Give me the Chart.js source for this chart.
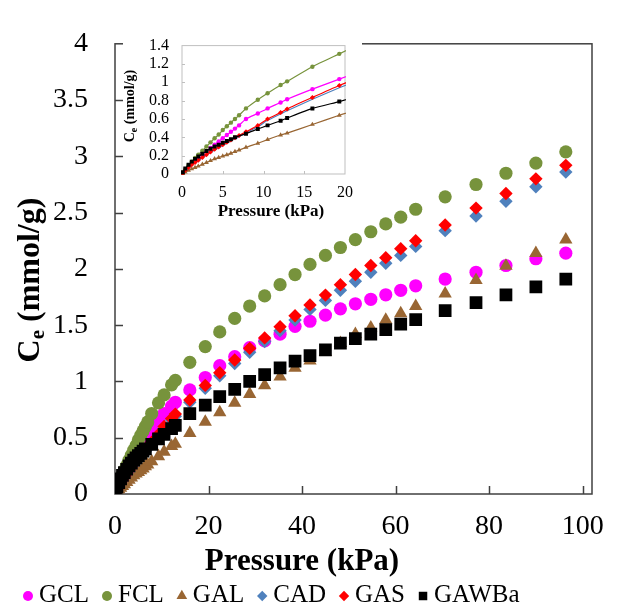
<!DOCTYPE html>
<html>
<head>
<meta charset="utf-8">
<script src="https://cdn.jsdelivr.net/npm/chart.js@4/dist/chart.umd.min.js"></script>
<style>
  html, body { margin: 0; padding: 0; background: #fff; }
  #wrap { position: relative; width: 625px; height: 612px; }
  #main { position: absolute; left: 0; top: 0; }
  #inset { position: absolute; left: 123px; top: 23px; background: #fff; }
</style>
</head>
<body>
<div id="wrap">
  <canvas id="main" width="625" height="612"></canvas>
  <canvas id="inset" width="239" height="200"></canvas>
</div>
<script>
// pressure points (kPa), shared by all series
const pressure = [0.1, 0.4, 0.8, 1.2, 1.6, 2.0, 2.5, 3.0, 3.5, 4.0, 4.5, 5.0, 5.5, 6.0, 6.5, 7.0,
  7.85, 9.3, 10.5, 12.1, 12.9,
  16.0, 19.3, 22.4, 25.6, 28.8, 32.0, 35.3, 38.5, 41.7, 45.0, 48.2, 51.4, 54.7, 57.9, 61.1, 64.3, 70.6, 77.2, 83.6, 90.0, 96.4];

// Ce (mmol/g) per series
const gcl = [null, null, null, null, 0.15, 0.18, 0.215, 0.25, 0.285, 0.32, 0.355, 0.39, 0.425, 0.46, 0.495, 0.53,
  0.60, 0.66, 0.715, 0.78, 0.815,
  0.925, 1.035, 1.14, 1.22, 1.30, 1.36, 1.42, 1.49, 1.535, 1.59, 1.645, 1.69, 1.73, 1.77, 1.81, 1.85, 1.91, 1.97, 2.03, 2.09, 2.14];
const fcl = [0.015, 0.05, 0.095, 0.135, 0.175, 0.21, 0.255, 0.30, 0.345, 0.39, 0.43, 0.48, 0.52, 0.56, 0.60, 0.64,
  0.715, 0.81, 0.88, 0.97, 1.01,
  1.17, 1.31, 1.44, 1.56, 1.67, 1.76, 1.86, 1.95, 2.04, 2.12, 2.19, 2.26, 2.33, 2.40, 2.46, 2.53, 2.64, 2.75, 2.85, 2.94, 3.04];
const gal = [0.005, 0.02, 0.04, 0.055, 0.07, 0.085, 0.105, 0.125, 0.145, 0.165, 0.18, 0.195, 0.21, 0.225, 0.245, 0.26,
  0.29, 0.335, 0.375, 0.425, 0.445,
  0.54, 0.64, 0.725, 0.81, 0.888, 0.965, 1.043, 1.12, 1.184, 1.26, 1.34, 1.42, 1.477, 1.547, 1.604, 1.668, 1.78, 1.90, 2.026, 2.14, 2.26];
const cad = [0.01, 0.035, 0.065, 0.095, 0.12, 0.145, 0.175, 0.205, 0.235, 0.26, 0.285, 0.31, 0.335, 0.36, 0.385, 0.405,
  0.45, 0.515, 0.585, 0.655, 0.69,
  0.815, 0.94, 1.05, 1.16, 1.26, 1.355, 1.45, 1.545, 1.64, 1.72, 1.81, 1.89, 1.97, 2.05, 2.12, 2.20, 2.34, 2.47, 2.60, 2.73, 2.86];
const gas = [0.01, 0.04, 0.07, 0.10, 0.125, 0.15, 0.18, 0.21, 0.24, 0.27, 0.295, 0.32, 0.345, 0.37, 0.395, 0.42,
  0.46, 0.53, 0.60, 0.67, 0.71,
  0.835, 0.965, 1.077, 1.19, 1.294, 1.387, 1.486, 1.584, 1.68, 1.767, 1.86, 1.95, 2.03, 2.10, 2.18, 2.25, 2.39, 2.54, 2.67, 2.80, 2.92];
const gawba = [0.02, 0.06, 0.10, 0.135, 0.165, 0.19, 0.22, 0.25, 0.275, 0.30, 0.32, 0.34, 0.36, 0.38, 0.40, null,
  0.44, 0.49, 0.53, 0.58, 0.61,
  0.715, 0.79, 0.866, 0.93, 1.0, 1.06, 1.12, 1.18, 1.23, 1.28, 1.34, 1.38, 1.42, 1.46, 1.51, 1.55, 1.63, 1.70, 1.77, 1.84, 1.91];

const seriesNames = ['GCL', 'FCL', 'GAL', 'CAD', 'GAS', 'GAWBa'];
const seriesValues = [gcl, fcl, gal, cad, gas, gawba];
const seriesColors = ['#FF00FF', '#77933C', '#996633', '#4F81BD', '#FF0000', '#000000'];
const seriesMarkers = ['circle', 'circle', 'triangle', 'rectRot', 'rectRot', 'rect'];

// axis ranges and tick labels
const mainTicksX = { min: 0, max: 102, step: 20, last: 100 };
const mainTicksY = { min: 0, max: 4, step: 0.5, last: 4 };
const insetTicksX = { min: 0, max: 20, step: 5, last: 20 };
const insetTicksY = { min: 0, max: 1.4, step: 0.2, last: 1.4 };

const SERIF = "'Liberation Serif', 'Times New Roman', serif";
const mainSize = { circle: 6.6, triangle: 7.7, rectRot: 6.7, rect: 9 };
const insetSize = { circle: 2.2, triangle: 2.8, rectRot: 2.5, rect: 2.8 };
const legendSize = { circle: 5, triangle: 6.2, rectRot: 5.2, rect: 6 };

function toPoints(values) {
  return pressure.map((p, i) => ({ x: p, y: values[i] }));
}

function shape(ctx, style, cx, cy, r, color) {
  ctx.fillStyle = color;
  ctx.beginPath();
  if (style === 'circle') {
    ctx.arc(cx, cy, r, 0, Math.PI * 2);
  } else if (style === 'triangle') {
    ctx.moveTo(cx, cy - r);
    ctx.lineTo(cx + r * 0.866, cy + r / 2);
    ctx.lineTo(cx - r * 0.866, cy + r / 2);
    ctx.closePath();
  } else if (style === 'rectRot') {
    ctx.moveTo(cx, cy - r);
    ctx.lineTo(cx + r, cy);
    ctx.lineTo(cx, cy + r);
    ctx.lineTo(cx - r, cy);
    ctx.closePath();
  } else {
    const h = r * Math.SQRT1_2;
    ctx.rect(cx - h, cy - h, 2 * h, 2 * h);
  }
  ctx.fill();
}

function yTitle(ctx, t) {
  ctx.save();
  ctx.translate(t.x, t.y);
  ctx.rotate(-Math.PI / 2);
  ctx.fillStyle = '#000';
  ctx.textAlign = 'left';
  ctx.textBaseline = 'alphabetic';
  const big = 'bold ' + t.size + 'px ' + SERIF;
  const small = 'bold ' + t.sub + 'px ' + SERIF;
  ctx.font = big;
  const wC = ctx.measureText('C').width;
  const wRest = ctx.measureText(' (mmol/g)').width;
  ctx.font = small;
  const wE = ctx.measureText('e').width;
  const x0 = -(wC + wE + wRest) / 2;
  ctx.font = big;
  ctx.fillText('C', x0, 0);
  ctx.font = small;
  ctx.fillText('e', x0 + wC, t.drop);
  ctx.font = big;
  ctx.fillText(' (mmol/g)', x0 + wC + wE, 0);
  ctx.restore();
}

const decor = {
  id: 'decor',
  beforeDatasetsDraw(chart, args, o) {
    const { ctx, chartArea: a, scales: { x, y } } = chart;
    ctx.save();
    ctx.strokeStyle = o.frameColor;
    ctx.lineWidth = o.frameWidth;
    ctx.strokeRect(a.left, a.top, a.right - a.left, a.bottom - a.top);
    ctx.beginPath();
    x.ticks.forEach(t => {
      if (t.value <= x.min || t.value >= x.max) return;
      const px = Math.round(x.getPixelForValue(t.value)) + 0.5;
      ctx.moveTo(px, a.bottom);
      ctx.lineTo(px, a.bottom - o.tickLen);
    });
    y.ticks.forEach(t => {
      if (t.value <= y.min || t.value >= y.max) return;
      const py = Math.round(y.getPixelForValue(t.value)) + 0.5;
      ctx.moveTo(a.left, py);
      ctx.lineTo(a.left + o.tickLen, py);
    });
    ctx.stroke();
    ctx.restore();
  },
  afterDraw(chart, args, o) {
    const ctx = chart.ctx;
    ctx.save();
    ctx.fillStyle = '#000';
    ctx.font = 'bold ' + o.xTitle.size + 'px ' + SERIF;
    ctx.textAlign = 'center';
    ctx.textBaseline = 'alphabetic';
    ctx.fillText('Pressure (kPa)', o.xTitle.x, o.xTitle.y);
    ctx.restore();
    yTitle(ctx, o.yTitle);
    if (o.legend) {
      const L = o.legend;
      ctx.save();
      ctx.font = L.size + 'px ' + SERIF;
      ctx.textAlign = 'left';
      ctx.textBaseline = 'alphabetic';
      let x = L.x;
      seriesNames.forEach((name, i) => {
        const cx = x + 6;
        shape(ctx, seriesMarkers[i], cx, L.markerY, legendSize[seriesMarkers[i]], seriesColors[i]);
        ctx.fillStyle = '#000';
        const tx = cx + 11;
        ctx.fillText(name, tx, L.y);
        x = tx + ctx.measureText(name).width + 12;
      });
      ctx.restore();
    }
  }
};

function axis(range, pad, fit, fontSize, isX) {
  return {
    type: 'linear',
    min: range.min,
    max: range.max,
    grid: { display: false, drawTicks: false },
    border: { display: false },
    afterFit: s => { if (isX) s.height = fit; else s.width = fit; },
    afterBuildTicks: s => {
      const list = [];
      for (let k = 0; range.min + k * range.step <= range.last + 1e-9; k++) {
        list.push({ value: +(range.min + k * range.step).toFixed(3) });
      }
      s.ticks = list;
    },
    ticks: {
      autoSkip: false,
      maxRotation: 0,
      padding: pad,
      color: '#000',
      font: { family: SERIF, size: fontSize },
      callback: v => String(+v.toFixed(2))
    }
  };
}

const mainDatasets = seriesNames.map((name, i) => ({
  label: name,
  data: toPoints(seriesValues[i]),
  showLine: false,
  order: seriesNames.length - i,
  pointStyle: seriesMarkers[i],
  pointRadius: mainSize[seriesMarkers[i]],
  pointHoverRadius: mainSize[seriesMarkers[i]],
  pointBackgroundColor: seriesColors[i],
  pointBorderWidth: 0,
  borderColor: seriesColors[i]
}));

new Chart(document.getElementById('main'), {
  type: 'scatter',
  data: { datasets: mainDatasets },
  options: {
    responsive: false,
    animation: false,
    events: [],
    layout: { padding: { top: 21, right: 33, left: 0, bottom: 0 } },
    plugins: {
      legend: { display: false },
      tooltip: { enabled: false },
      decor: {
        frameColor: '#404040',
        frameWidth: 1.5,
        tickLen: 8,
        xTitle: { x: 302, y: 570, size: 31 },
        yTitle: { x: 39, y: 280, size: 32, sub: 21, drop: 5 },
        legend: { x: 22, y: 602, markerY: 596, size: 25 }
      }
    },
    scales: {
      x: axis(mainTicksX, 16, 118, 28, true),
      y: axis(mainTicksY, 27, 115, 28, false)
    }
  },
  plugins: [decor]
});

const insetDatasets = seriesNames.map((name, i) => ({
  label: name,
  data: toPoints(seriesValues[i]).filter(p => p.x <= 23),
  showLine: true,
  spanGaps: true,
  tension: 0.2,
  clip: 1,
  order: seriesNames.length - i,
  borderColor: seriesColors[i],
  borderWidth: 1.2,
  pointStyle: seriesMarkers[i],
  pointRadius: i === 3 ? 0 : insetSize[seriesMarkers[i]],
  pointHoverRadius: insetSize[seriesMarkers[i]],
  pointBackgroundColor: seriesColors[i],
  pointBorderWidth: 0
}));

new Chart(document.getElementById('inset'), {
  type: 'scatter',
  data: { datasets: insetDatasets },
  options: {
    responsive: false,
    animation: false,
    events: [],
    layout: { padding: { top: 8, right: 2, left: 0, bottom: 0 } },
    plugins: {
      legend: { display: false },
      tooltip: { enabled: false },
      decor: {
        frameColor: '#BFBFBF',
        frameWidth: 1,
        tickLen: 3,
        xTitle: { x: 148, y: 193, size: 17 },
        yTitle: { x: 11, y: 83, size: 14, sub: 10, drop: 3 },
        legend: null
      }
    },
    scales: {
      x: axis(insetTicksX, 9, 49, 16, true),
      y: axis(insetTicksY, 13, 59, 16, false)
    }
  },
  plugins: [decor]
});
</script>
</body>
</html>
